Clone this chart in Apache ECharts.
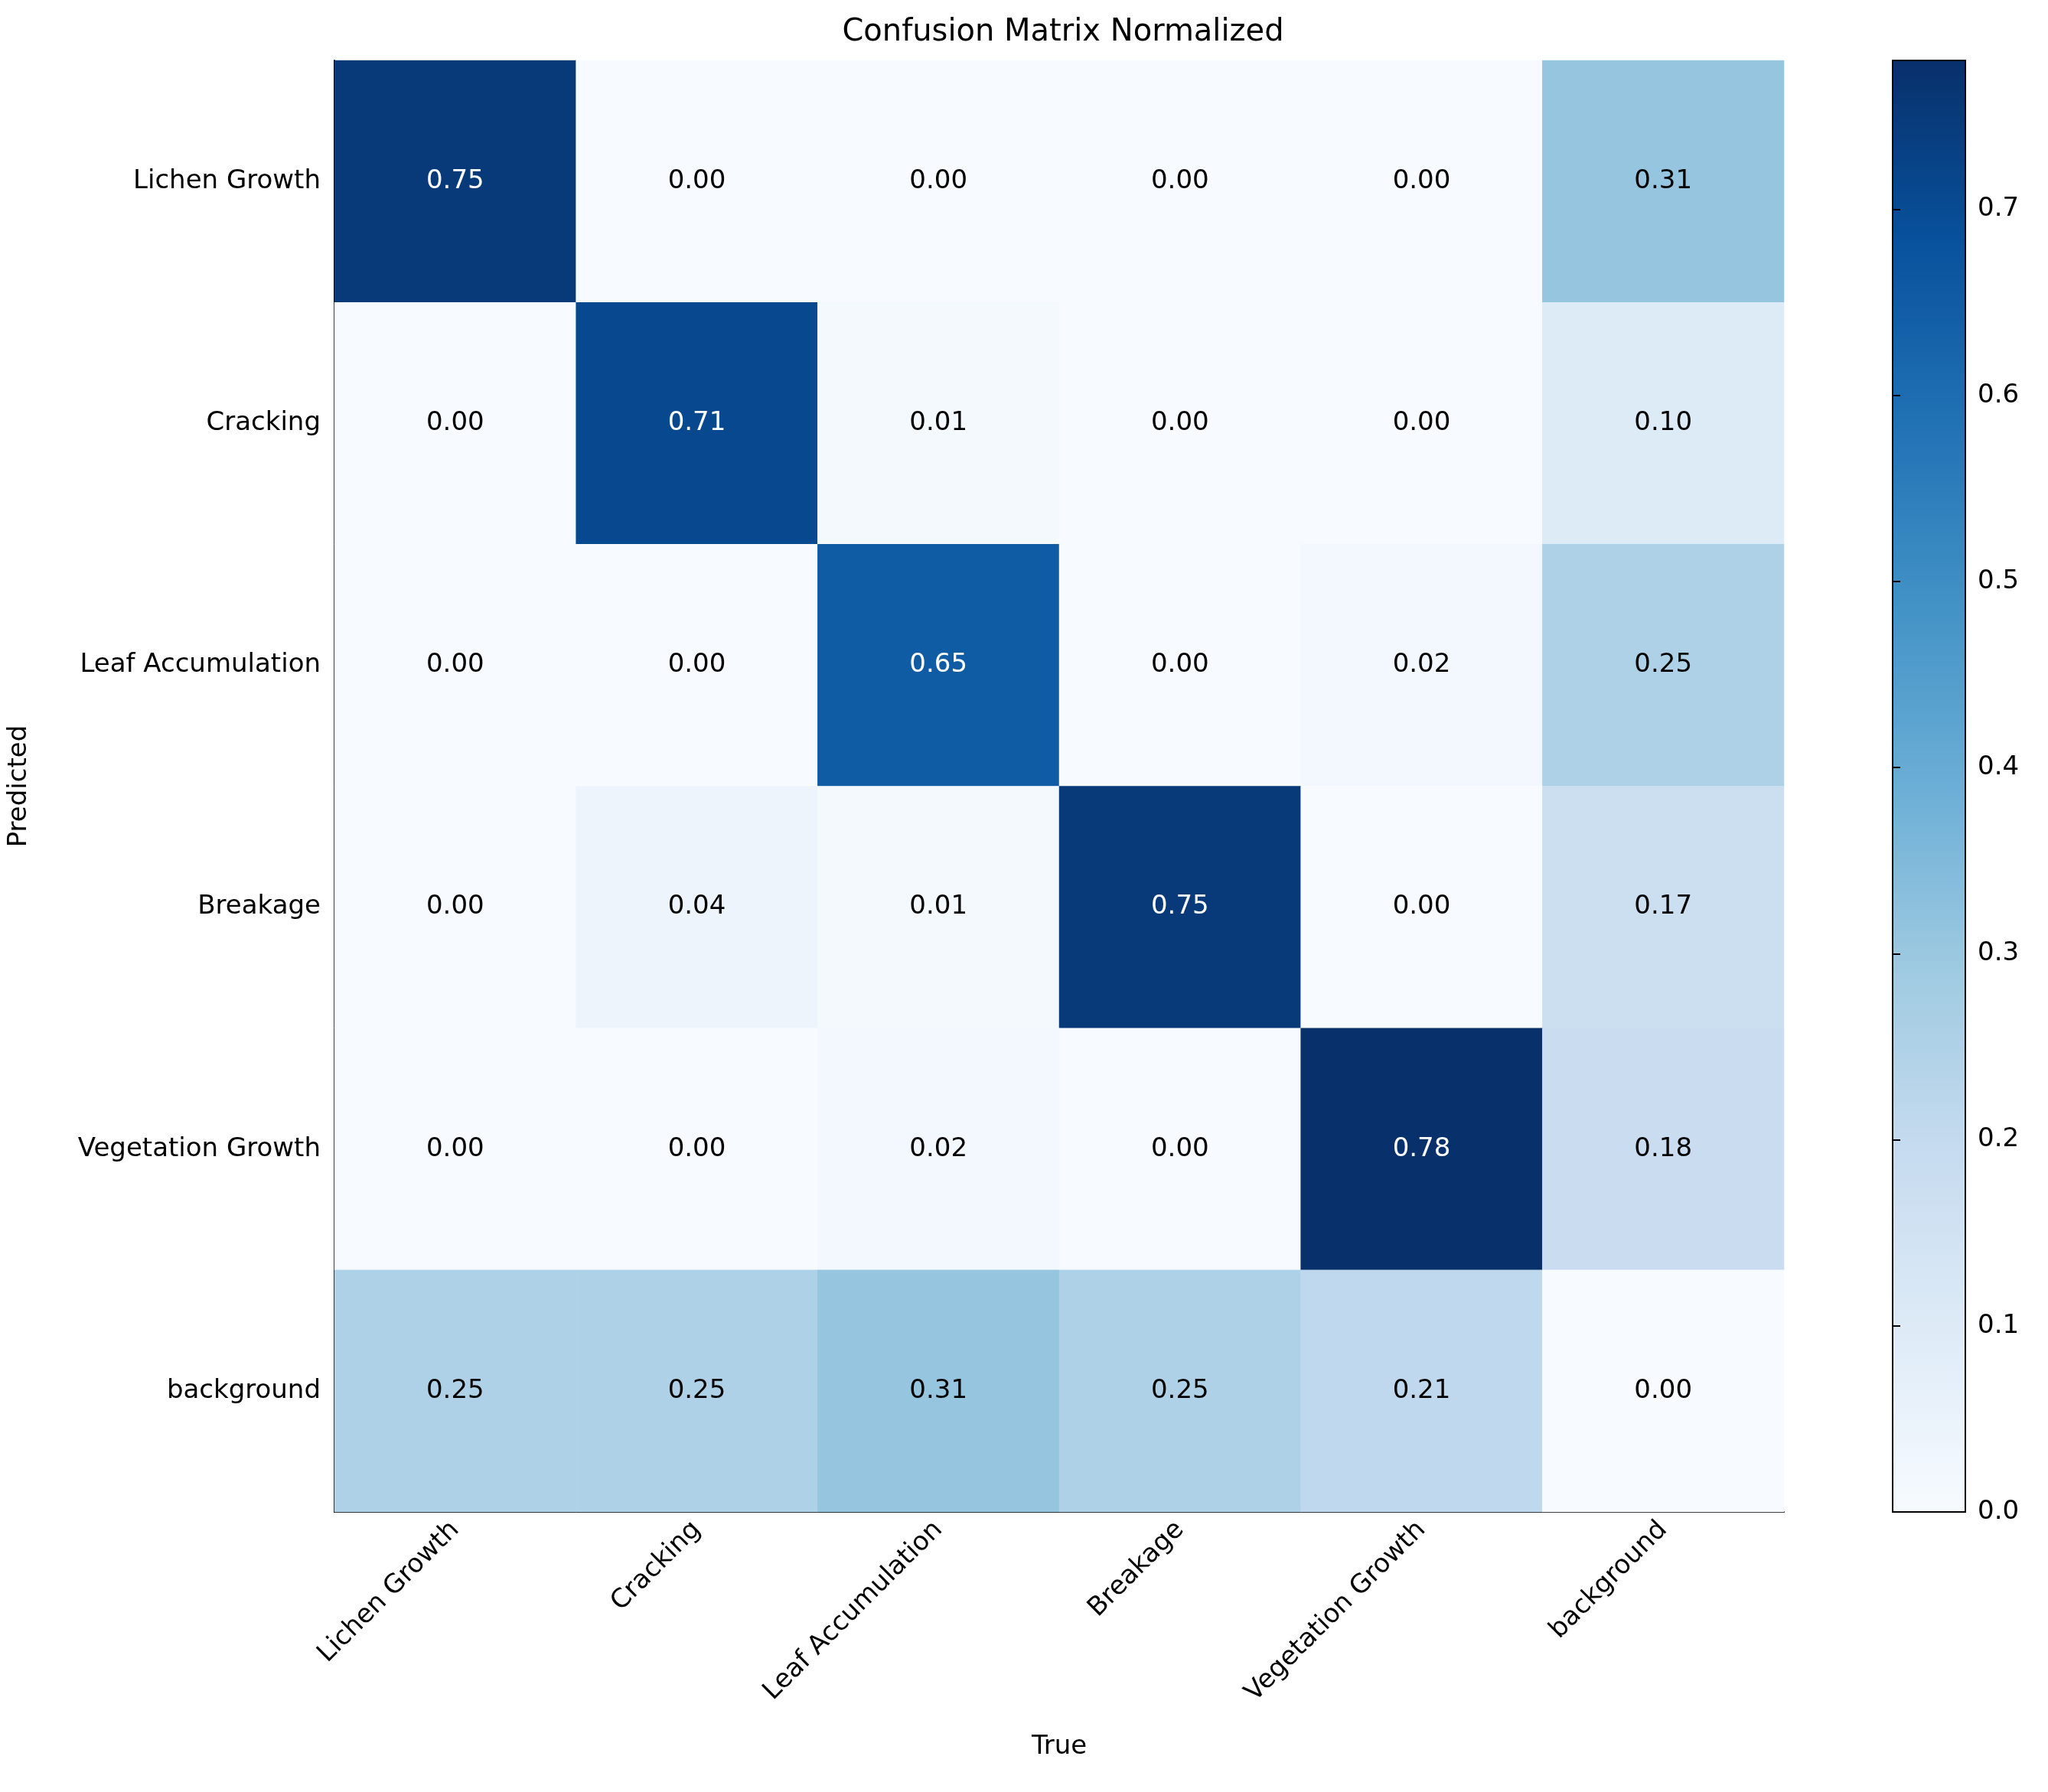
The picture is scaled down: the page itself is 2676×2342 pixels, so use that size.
<!DOCTYPE html>
<html><head><meta charset="utf-8">
<script src="https://cdn.jsdelivr.net/npm/echarts@6/dist/echarts.min.js"></script>
<style>html,body{margin:0;padding:0;background:#fff}#c{width:2676px;height:2342px}</style>
</head><body><div id="c"></div>
<script>
const categories = ['Lichen Growth','Cracking','Leaf Accumulation','Breakage','Vegetation Growth','background'];
// rows = Predicted, cols = True
const matrix = [
  [0.75,0.00,0.00,0.00,0.00,0.31],
  [0.00,0.71,0.01,0.00,0.00,0.10],
  [0.00,0.00,0.65,0.00,0.02,0.25],
  [0.00,0.04,0.01,0.75,0.00,0.17],
  [0.00,0.00,0.02,0.00,0.78,0.18],
  [0.25,0.25,0.31,0.25,0.21,0.00]
];
const cbTicks = [0,0.1,0.2,0.3,0.4,0.5,0.6,0.7];
const vmax = 0.78;
const blues = ['#f7fbff','#deebf7','#c6dbef','#9ecae1','#6baed6','#4292c6','#2171b5','#08519c','#08306b'];
const data = [];
matrix.forEach((row,r)=>row.forEach((v,c)=>data.push([c,r,v])));
const font = 'DejaVu Sans';
const chart = echarts.init(document.getElementById('c'));
chart.setOption({
  backgroundColor:'#fff',
  textStyle:{fontFamily:font},
  title:{text:'Confusion Matrix Normalized',left:1384,top:18,textAlign:'center',
    textStyle:{fontFamily:font,fontWeight:'normal',fontSize:40,color:'#000'}},
  grid:[
    {left:437,top:79,width:1894,height:1897,show:false},
    {left:2473,top:79,width:95,height:1897,show:true,borderColor:'#000',borderWidth:2,
      backgroundColor:new echarts.graphic.LinearGradient(0,1,0,0,blues.map((c,i)=>({offset:i/(blues.length-1),color:c})))}
  ],
  xAxis:[
    {type:'category',data:categories,gridIndex:0,name:'True',nameLocation:'middle',nameGap:290,
      nameTextStyle:{fontSize:34,color:'#000',fontFamily:font},
      axisLine:{lineStyle:{color:'#000',width:2}},axisTick:{alignWithLabel:true,length:10,lineStyle:{color:'#000',width:2}},
      axisLabel:{rotate:45,fontSize:34,color:'#000',margin:18,fontFamily:font},splitLine:{show:false}},
    {type:'value',gridIndex:1,show:false}
  ],
  yAxis:[
    {type:'category',data:categories,inverse:true,gridIndex:0,name:'Predicted',nameLocation:'middle',nameGap:395,
      nameRotate:90,nameTextStyle:{fontSize:34,color:'#000',fontFamily:font},
      axisLine:{lineStyle:{color:'#000',width:2}},axisTick:{alignWithLabel:true,length:10,lineStyle:{color:'#000',width:2}},
      axisLabel:{fontSize:34,color:'#000',margin:18,fontFamily:font},splitLine:{show:false}},
    {type:'value',gridIndex:1,position:'right',min:0,max:vmax,interval:0.1,
      axisLine:{show:false},axisTick:{show:true,length:10,lineStyle:{color:'#000',width:2}},
      axisLabel:{fontSize:34,color:'#000',margin:16,fontFamily:font,formatter:v=>cbTicks.includes(Math.round(v*10)/10)?v.toFixed(1):''},
      splitLine:{show:false}}
  ],
  visualMap:{show:false,min:0,max:vmax,seriesIndex:0,inRange:{color:blues}},
  series:[{type:'heatmap',xAxisIndex:0,yAxisIndex:0,data:data,
    itemStyle:{borderWidth:0},
    label:{show:true,fontSize:34,fontFamily:font,
      formatter:p=>p.value[2].toFixed(2),
      rich:{}},
    labelLayout:null
  }]
});
// set label colors per value
chart.setOption({series:[{data:data.map(d=>({value:d,label:{color:d[2]>vmax/2?'#fff':'#000'}}))}]});
</script></body></html>
